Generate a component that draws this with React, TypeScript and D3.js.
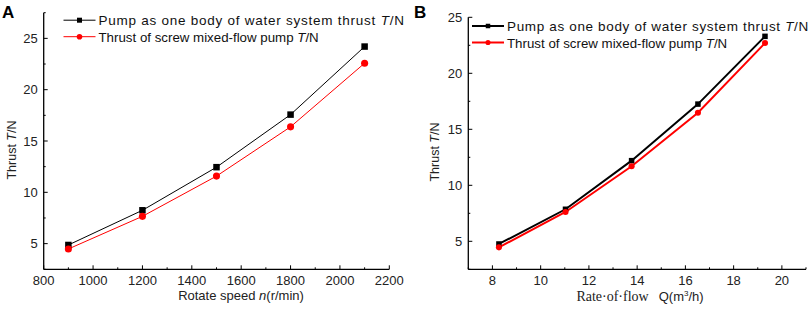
import React from "react";
import * as d3 from "d3";

// Panel A data
const speedA = [900, 1200, 1500, 1800, 2100];
const bodyThrustA = [4.87, 8.25, 12.45, 17.57, 24.2];
const pumpThrustA = [4.48, 7.66, 11.58, 16.38, 22.58];
const xTicksA = [800, 1000, 1200, 1400, 1600, 1800, 2000, 2200];
const xMinorA = [900, 1100, 1300, 1500, 1700, 1900, 2100];
const yTicksA = [5, 10, 15, 20, 25];
const yMinorA = [2.5, 7.5, 12.5, 17.5, 22.5, 27.5];

// Panel B data
const flowB = [8.27, 11.03, 13.77, 16.52, 19.3];
const bodyThrustB = [4.76, 7.86, 12.2, 17.25, 23.3];
const pumpThrustB = [4.46, 7.62, 11.7, 16.48, 22.7];
const xTicksB = [8, 10, 12, 14, 16, 18, 20];
const xMinorB = [7, 9, 11, 13, 15, 17, 19, 21];
const yTicksB = [5, 10, 15, 20, 25];
const yMinorB = [2.5, 7.5, 12.5, 17.5, 22.5];

const legend1 = "Pump as one body of water system  thrust ";
const legend2 = "Thrust of screw mixed-flow pump ";

const FONT = "'Liberation Sans', Arial, sans-serif";

type PanelProps = {
  label: string;
  xs: number[];
  s1: number[];
  s2: number[];
  xDomain: [number, number];
  xRange: [number, number];
  yDomain: [number, number];
  yRange: [number, number];
  xTicks: number[];
  xMinor: number[];
  yTicks: number[];
  yMinor: number[];
  lineWidth: number;
  markerSize: number;
  legendX: number;
  legendY: number;
  legendMarker: number;
  spacing1: number;
  xTitle: React.ReactNode;
  yTitleX: number;
  yTitleY: number;
  labelX: number;
};

function Panel(p: PanelProps) {
  const x = d3.scaleLinear().domain(p.xDomain).range(p.xRange);
  const y = d3.scaleLinear().domain(p.yDomain).range(p.yRange);
  const line = d3
    .line<number>()
    .x((_, i) => x(p.xs[i]))
    .y((d) => y(d));
  const x0 = p.xRange[0];
  const y0 = p.yRange[0];
  const major = 4;
  const minor = 2;
  const ms = p.markerSize;
  const lm = p.legendMarker;
  return (
    <g>
      <text x={p.labelX} y={18} fontFamily={FONT} fontWeight="bold" fontSize={17}>
        {p.label}
      </text>
      {/* axes */}
      <line x1={x0} x2={x0} y1={p.yRange[1]} y2={y0} stroke="#000" strokeWidth={1.3} />
      <line x1={x0} x2={p.xRange[1]} y1={y0} y2={y0} stroke="#000" strokeWidth={1.3} />
      {p.xTicks.map((t) => (
        <g key={"xt" + t}>
          <line x1={x(t)} x2={x(t)} y1={y0} y2={y0 - major} stroke="#000" strokeWidth={1} />
          <text x={x(t)} y={285} textAnchor="middle" fontFamily={FONT} fontSize={13} fill="#222">
            {t}
          </text>
        </g>
      ))}
      {p.xMinor.map((t) => (
        <line key={"xm" + t} x1={x(t)} x2={x(t)} y1={y0} y2={y0 - minor} stroke="#000" strokeWidth={1} />
      ))}
      {p.yTicks.map((t) => (
        <g key={"yt" + t}>
          <line x1={x0} x2={x0 + major} y1={y(t)} y2={y(t)} stroke="#000" strokeWidth={1} />
          <text x={x0 - 6} y={y(t) + 4.5} textAnchor="end" fontFamily={FONT} fontSize={13} fill="#222">
            {t}
          </text>
        </g>
      ))}
      {p.yMinor.map((t) => (
        <line key={"ym" + t} x1={x0} x2={x0 + minor} y1={y(t)} y2={y(t)} stroke="#000" strokeWidth={1} />
      ))}
      {/* titles */}
      <text
        transform={`translate(${p.yTitleX},${p.yTitleY}) rotate(-90)`}
        textAnchor="middle"
        fontFamily={FONT}
        fontSize={12.5}
        fill="#222"
      >
        Thrust <tspan fontStyle="italic">T</tspan>/N
      </text>
      {p.xTitle}
      {/* series */}
      <path d={line(p.s1) || ""} fill="none" stroke="#000" strokeWidth={p.lineWidth} />
      <path d={line(p.s2) || ""} fill="none" stroke="#ff0000" strokeWidth={p.lineWidth} />
      {p.s1.map((v, i) => (
        <rect key={"a" + i} x={x(p.xs[i]) - ms / 2} y={y(v) - ms / 2} width={ms} height={ms} fill="#000" />
      ))}
      {p.s2.map((v, i) => (
        <circle key={"b" + i} cx={x(p.xs[i])} cy={y(v)} r={ms / 2 + 0.3} fill="#ff0000" />
      ))}
      {/* legend */}
      <g>
        <line x1={p.legendX} x2={p.legendX + 32} y1={p.legendY} y2={p.legendY} stroke="#000" strokeWidth={p.lineWidth} />
        <rect x={p.legendX + 16 - lm / 2} y={p.legendY - lm / 2} width={lm} height={lm} fill="#000" />
        <text
          x={p.legendX + 35}
          y={p.legendY + 5}
          fontFamily={FONT}
          fontSize={13.5}
          fill="#111"
          letterSpacing={p.spacing1}
        >
          {legend1}
          <tspan fontStyle="italic">T</tspan>/N
        </text>
        <line x1={p.legendX} x2={p.legendX + 32} y1={p.legendY + 16.5} y2={p.legendY + 16.5} stroke="#ff0000" strokeWidth={p.lineWidth} />
        <circle cx={p.legendX + 16} cy={p.legendY + 16.5} r={lm / 2 + 0.3} fill="#ff0000" />
        <text x={p.legendX + 35} y={p.legendY + 21.5} fontFamily={FONT} fontSize={13.3} fill="#111">
          {legend2}
          <tspan fontStyle="italic">T</tspan>/N
        </text>
      </g>
    </g>
  );
}

export default function App() {
  return (
    <svg
      width={809}
      height={314}
      style={{ position: "absolute", left: 0, top: 0, background: "#fff" }}
    >
      <rect width={809} height={314} fill="#fff" />
      <Panel
        label="A"
        xs={speedA}
        s1={bodyThrustA}
        s2={pumpThrustA}
        xDomain={[800, 2200]}
        xRange={[43.7, 389.3]}
        yDomain={[2.5, 27.5]}
        yRange={[269.3, 12.7]}
        xTicks={xTicksA}
        xMinor={xMinorA}
        yTicks={yTicksA}
        yMinor={yMinorA}
        lineWidth={1}
        markerSize={6.5}
        legendX={63.5}
        legendY={20.2}
        legendMarker={5}
        spacing1={0.75}
        yTitleX={16}
        yTitleY={150}
        labelX={2}
        xTitle={
          <text x={241} y={300} textAnchor="middle" fontFamily={FONT} fontSize={13} fill="#222">
            Rotate speed <tspan fontStyle="italic">n</tspan>(r/min)
          </text>
        }
      />
      <Panel
        label="B"
        xs={flowB}
        s1={bodyThrustB}
        s2={pumpThrustB}
        xDomain={[7, 21]}
        xRange={[468.3, 806]}
        yDomain={[2.5, 25]}
        yRange={[269.3, 17.3]}
        xTicks={xTicksB}
        xMinor={xMinorB}
        yTicks={yTicksB}
        yMinor={yMinorB}
        lineWidth={2}
        markerSize={5.5}
        legendX={472}
        legendY={26}
        legendMarker={4.5}
        spacing1={0.65}
        yTitleX={439}
        yTitleY={152}
        labelX={414}
        xTitle={
          <text x={640} y={301} textAnchor="middle" fontSize={13} fill="#222">
            <tspan fontFamily="'Liberation Serif', 'Times New Roman', serif" fontSize={14}>
              Rate·of·flow
            </tspan>
            <tspan fontFamily={FONT} dx={10}>
              Q(m
            </tspan>
            <tspan fontFamily={FONT} fontSize={8} dy={-5}>
              3
            </tspan>
            <tspan fontFamily={FONT} dy={5}>
              /h)
            </tspan>
          </text>
        }
      />
    </svg>
  );
}
